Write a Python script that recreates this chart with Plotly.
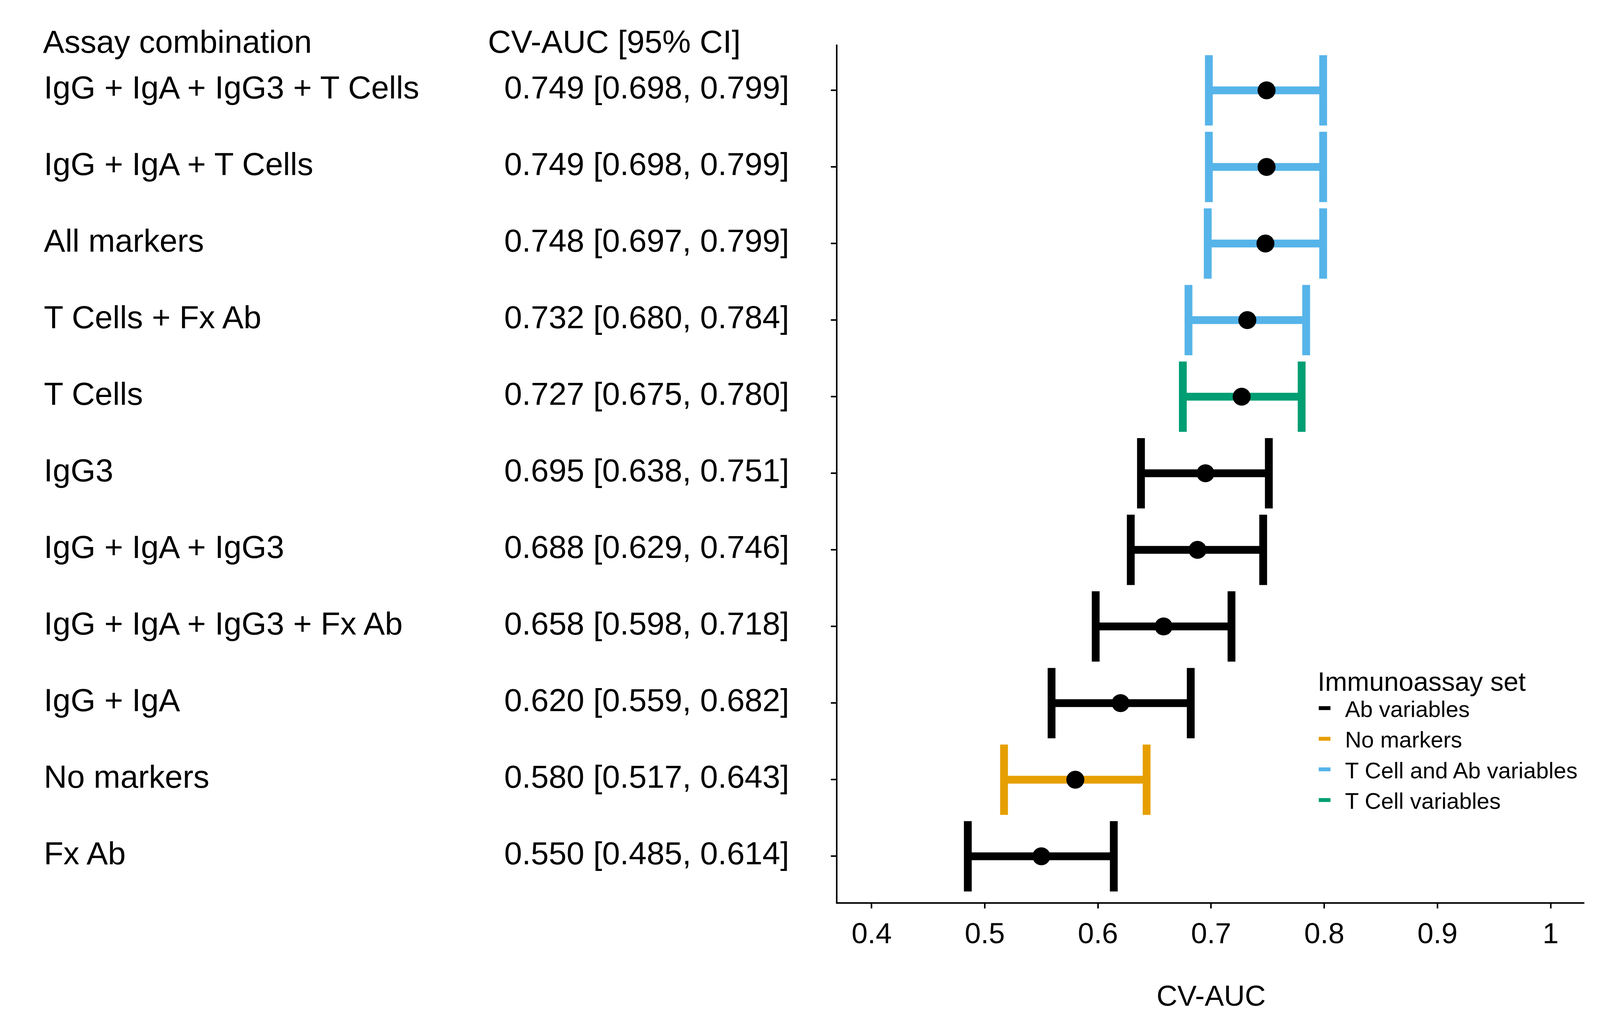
import plotly.graph_objects as go

# rows, top to bottom
combos = ["IgG + IgA + IgG3 + T Cells", "IgG + IgA + T Cells", "All markers",
          "T Cells + Fx Ab", "T Cells", "IgG3", "IgG + IgA + IgG3",
          "IgG + IgA + IgG3 + Fx Ab", "IgG + IgA", "No markers", "Fx Ab"]
auc = [0.749, 0.749, 0.748, 0.732, 0.727, 0.695, 0.688, 0.658, 0.620, 0.580, 0.550]
ci_low = [0.698, 0.698, 0.697, 0.680, 0.675, 0.638, 0.629, 0.598, 0.559, 0.517, 0.485]
ci_high = [0.799, 0.799, 0.799, 0.784, 0.780, 0.751, 0.746, 0.718, 0.682, 0.643, 0.614]
assay_set = ["T Cell and Ab variables", "T Cell and Ab variables", "T Cell and Ab variables",
             "T Cell and Ab variables", "T Cell variables", "Ab variables", "Ab variables",
             "Ab variables", "Ab variables", "No markers", "Ab variables"]

set_names = ["Ab variables", "No markers", "T Cell and Ab variables", "T Cell variables"]
set_colors = {"Ab variables": "#000000", "No markers": "#E69F00",
              "T Cell and Ab variables": "#56B4E9", "T Cell variables": "#009E73"}

x_ticks = [0.4, 0.5, 0.6, 0.7, 0.8, 0.9, 1.0]
x_ticktext = ["0.4", "0.5", "0.6", "0.7", "0.8", "0.9", "1"]

FONT = "Liberation Sans, Arial, Helvetica, sans-serif"
# the browser viewport is 4096 px wide, so lay out in fractions of the reference
W, H = 4096, 2590
RW = 5180  # reference width, for fractions

ci_text = [f"{a:.3f} [{l:.3f}, {h:.3f}]" for a, l, h in zip(auc, ci_low, ci_high)]

fig = go.Figure()

# error bars + points, one trace per immunoassay set
for s in set_names:
    idx = [i for i, v in enumerate(assay_set) if v == s]
    fig.add_trace(go.Scatter(
        x=[auc[i] for i in idx],
        y=[combos[i] for i in idx],
        mode="markers",
        marker=dict(color="black", size=46),
        error_x=dict(type="data", symmetric=False,
                     array=[ci_high[i] - auc[i] for i in idx],
                     arrayminus=[auc[i] - ci_low[i] for i in idx],
                     color=set_colors[s], thickness=20, width=90),
        showlegend=False, xaxis="x", yaxis="y",
    ))

# legend keys (non-breaking spaces leave a gap between key and label)
for s in set_names:
    fig.add_trace(go.Scatter(
        x=[None], y=[None], mode="lines", name="\u00a0\u00a0" + s,
        line=dict(color=set_colors[s], width=20),
        xaxis="x", yaxis="y",
    ))

# table on the left
fig.add_trace(go.Scatter(
    x=[0.0527] * len(combos), y=combos, mode="text", text=combos,
    textposition="middle right", textfont=dict(size=82, color="black", family=FONT),
    showlegend=False, xaxis="x2", yaxis="y", cliponaxis=False, hoverinfo="skip",
))
fig.add_trace(go.Scatter(
    x=[0.606] * len(combos), y=combos, mode="text", text=ci_text,
    textposition="middle right", textfont=dict(size=82, color="black", family=FONT),
    showlegend=False, xaxis="x2", yaxis="y", cliponaxis=False, hoverinfo="skip",
))

x0, x1 = 2712 / RW, 5130 / RW
y0, y1 = 1 - 2337 / H, 1 - 115 / H

fig.update_layout(
    width=W, height=H,
    margin=dict(l=0, r=0, t=0, b=0),
    paper_bgcolor="white", plot_bgcolor="white",
    font=dict(family=FONT, color="black"),
    xaxis=dict(domain=[x0, x1], range=[0.37, 1.03], anchor="y",
               tickvals=x_ticks, ticktext=x_ticktext,
               tickfont=dict(size=74, color="black"),
               ticks="outside", ticklen=12, tickwidth=4, tickcolor="black",
               showline=True, linewidth=4, linecolor="black",
               showgrid=False, zeroline=False,
               title=dict(text="CV-AUC", font=dict(size=74, color="black"), standoff=108)),
    xaxis2=dict(domain=[0, 0.52], range=[0, 1], anchor="y", visible=False),
    yaxis=dict(domain=[y0, y1], type="category", categoryarray=combos[::-1],
               range=[-0.6, len(combos) - 0.4], anchor="x",
               showticklabels=False, ticks="outside", ticklen=13, tickwidth=4,
               tickcolor="black", showline=True, linewidth=4, linecolor="black",
               showgrid=False, zeroline=False),
    legend=dict(x=0.823, y=1 - 1700 / H, xanchor="left", yanchor="top",
                title=dict(text="Immunoassay set", font=dict(size=68)),
                font=dict(size=58, color="black"),
                bgcolor="rgba(0,0,0,0)", tracegroupgap=0, itemwidth=30),
    annotations=[
        dict(text="Assay combination", xref="paper", yref="paper",
             x=137 / RW, y=1 - 108 / H, xanchor="left", yanchor="middle",
             showarrow=False, font=dict(size=82, color="black")),
        dict(text="CV-AUC [95% CI]", xref="paper", yref="paper",
             x=1577 / RW, y=1 - 108 / H, xanchor="left", yanchor="middle",
             showarrow=False, font=dict(size=82, color="black")),
    ],
)

no_margin = "document.body.style.margin='0';document.body.style.overflow='hidden';"
fig.write_html("out.html", post_script=no_margin, config={"displayModeBar": False})
